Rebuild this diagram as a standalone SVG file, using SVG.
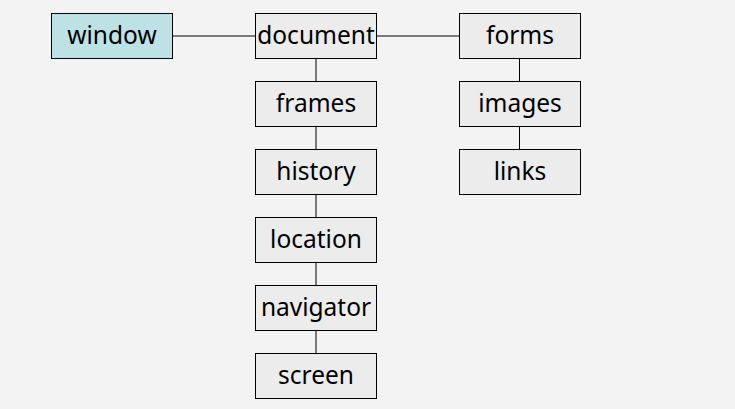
<svg xmlns="http://www.w3.org/2000/svg" width="735" height="409" viewBox="0 0 735 409">
<style>
.n rect{fill:#ececec;stroke:#000;stroke-width:1}
.n text{font-family:"Noto Sans","Open Sans",sans-serif;font-size:24.5px;fill:#000;text-anchor:middle;dominant-baseline:central}
#window rect{fill:#bde2e5}
.c line{stroke:#000;stroke-width:1}
</style>
<rect width="735" height="409" fill="#f3f3f3"/>
<g class="c">
<line x1="172.5" y1="36" x2="255.5" y2="36"/>
<line x1="376.5" y1="36" x2="459.5" y2="36"/>
<line x1="316" y1="58.5" x2="316" y2="81.5"/>
<line x1="316" y1="126.5" x2="316" y2="149.5"/>
<line x1="316" y1="194.5" x2="316" y2="217.5"/>
<line x1="316" y1="262.5" x2="316" y2="285.5"/>
<line x1="316" y1="330.5" x2="316" y2="353.5"/>
<line x1="519.5" y1="58.5" x2="519.5" y2="81.5"/>
<line x1="519.5" y1="126.5" x2="519.5" y2="149.5"/>
</g>
<g class="n" id="window"><rect x="51.5" y="13.5" width="121" height="45"/><text x="112" y="34">window</text></g>
<g class="n" id="document"><rect x="255.5" y="13.5" width="121" height="45"/><text x="316" y="34">document</text></g>
<g class="n" id="forms"><rect x="459.5" y="13.5" width="121" height="45"/><text x="520" y="34">forms</text></g>
<g class="n" id="frames"><rect x="255.5" y="81.5" width="121" height="45"/><text x="316" y="102">frames</text></g>
<g class="n" id="images"><rect x="459.5" y="81.5" width="121" height="45"/><text x="520" y="102">images</text></g>
<g class="n" id="history"><rect x="255.5" y="149.5" width="121" height="45"/><text x="316" y="170">history</text></g>
<g class="n" id="links"><rect x="459.5" y="149.5" width="121" height="45"/><text x="520" y="170">links</text></g>
<g class="n" id="location"><rect x="255.5" y="217.5" width="121" height="45"/><text x="316" y="238">location</text></g>
<g class="n" id="navigator"><rect x="255.5" y="285.5" width="121" height="45"/><text x="316" y="306">navigator</text></g>
<g class="n" id="screen"><rect x="255.5" y="353.5" width="121" height="45"/><text x="316" y="374">screen</text></g>
</svg>
